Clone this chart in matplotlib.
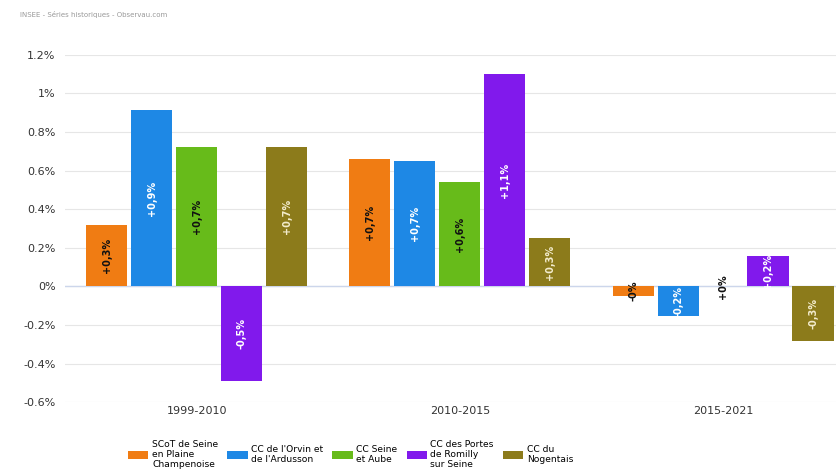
import numpy as np
import matplotlib
matplotlib.use("Agg")
import matplotlib.pyplot as plt
from matplotlib.ticker import FuncFormatter

periods = ["1999-2010", "2010-2015", "2015-2021"]
territories = [
    "SCoT de Seine\nen Plaine\nChampenoise",
    "CC de l'Orvin et\nde l'Ardusson",
    "CC Seine\net Aube",
    "CC des Portes\nde Romilly\nsur Seine",
    "CC du\nNogentais",
]
colors = ["#f07c13", "#1e88e5", "#67bb1a", "#8119ec", "#8c7b1b"]
text_colors = ["#111111", "white", "#111111", "white", "#f3eccd"]

# taux de variation annuel moyen (%) par territoire et par période
scot = [0.32, 0.66, -0.05]
orvin = [0.915, 0.65, -0.155]
seine_aube = [0.72, 0.54, 0.0]
romilly = [-0.49, 1.10, 0.155]
nogentais = [0.72, 0.25, -0.285]
series = [scot, orvin, seine_aube, romilly, nogentais]

labels = [
    ["+0,3%", "+0,7%", "-0%"],
    ["+0,9%", "+0,7%", "-0,2%"],
    ["+0,7%", "+0,6%", "+0%"],
    ["-0,5%", "+1,1%", "+0,2%"],
    ["+0,7%", "+0,3%", "-0,3%"],
]

fig = plt.figure(figsize=(8.37, 4.76), dpi=100)
ax = fig.add_axes([0.078, 0.155, 0.943, 0.73])

x = np.arange(len(periods))
step = 0.171
width = 0.156
for i, (vals, col) in enumerate(zip(series, colors)):
    pos = x + (i - 2) * step
    ax.bar(pos, vals, width=width, color=col, label=territories[i], zorder=3)
    for px, v, lab in zip(pos, vals, labels[i]):
        ax.text(px, v / 2, lab, rotation=90, ha="center", va="center",
                fontsize=7, fontweight="bold", color=text_colors[i], zorder=4)

ax.set_xlim(-0.5, 2.5)
ax.set_ylim(-0.6, 1.2)
ax.set_yticks(np.arange(-0.6, 1.21, 0.2))

def pct(v, _):
    s = f"{v:.1f}".rstrip("0").rstrip(".")
    if s == "-0":
        s = "0"
    return s + "%"

ax.yaxis.set_major_formatter(FuncFormatter(pct))
ax.set_xticks(x)
ax.set_xticklabels(periods)
ax.tick_params(axis="both", length=0, labelsize=8, colors="#333333")
ax.tick_params(axis="y", pad=7)
ax.tick_params(axis="x", pad=3)
ax.grid(axis="y", color="#e6e6e6", linewidth=0.8, zorder=0)
ax.axhline(0, color="#ccd6eb", linewidth=1, zorder=2)
for s in ax.spines.values():
    s.set_visible(False)

fig.text(0.024, 0.965, "INSEE - Séries historiques - Observau.com",
         fontsize=5, color="#999999")

fig.legend(loc="center", bbox_to_anchor=(0.419, 0.045), ncol=5, frameon=False,
           fontsize=6.6, handlelength=2.2, handleheight=1.1, handletextpad=0.4,
           columnspacing=1.0, labelspacing=0.2)

fig.savefig("out.png", dpi=100)
